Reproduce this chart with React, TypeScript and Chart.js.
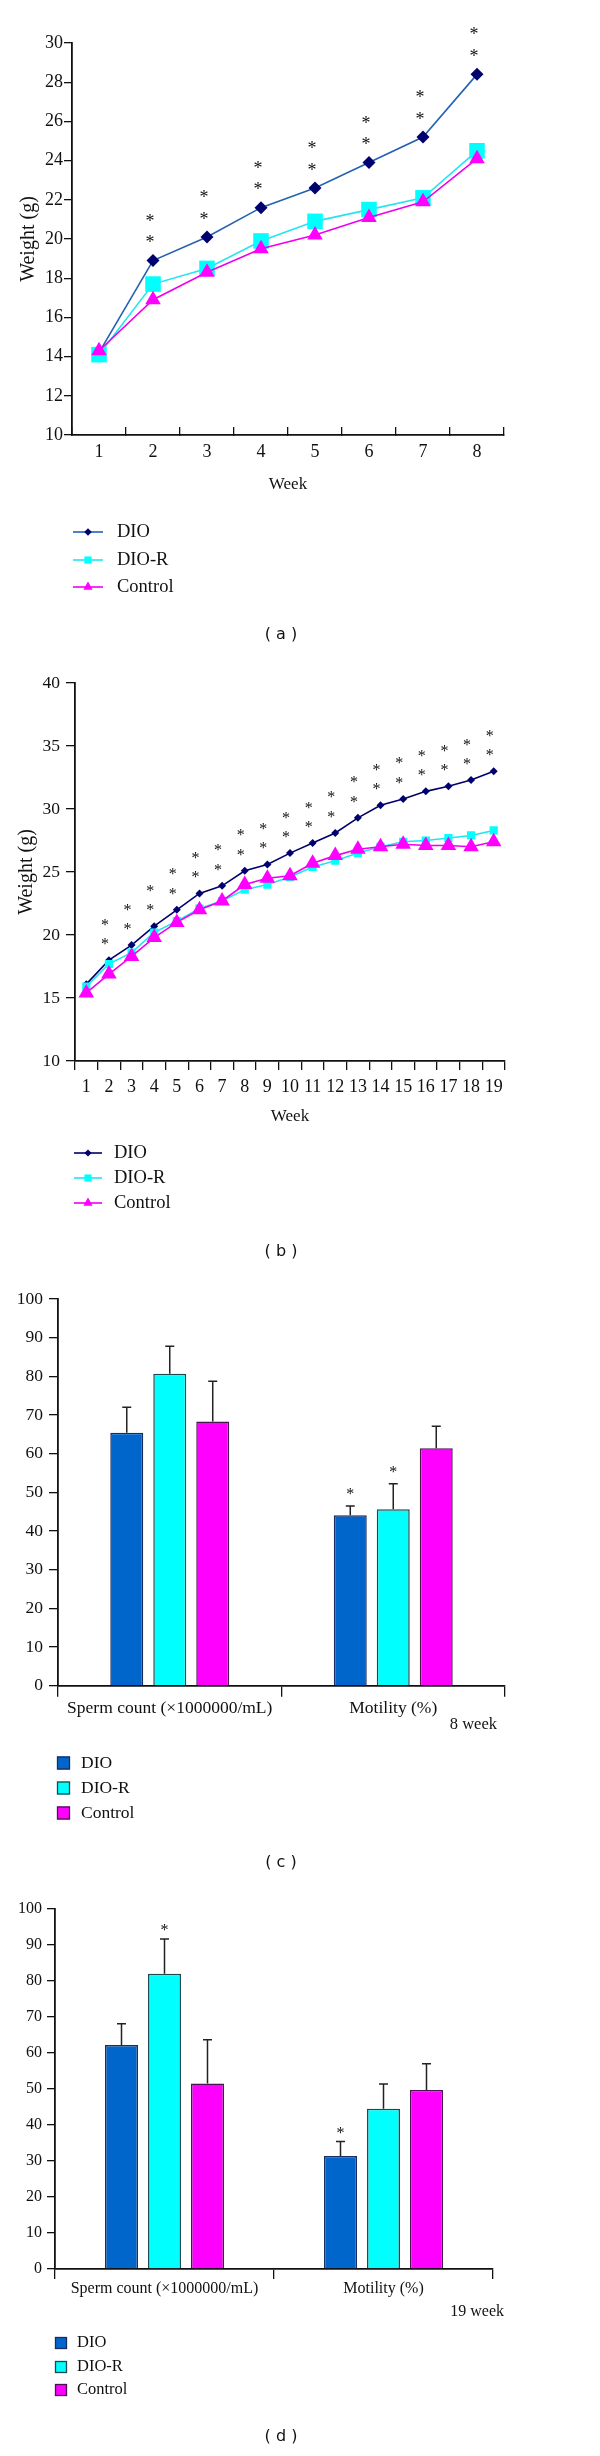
import React, { useEffect, useRef } from 'react';
import { Chart, registerables } from 'chart.js';

Chart.register(...registerables);

const SERIF = '"Liberation Serif", "Times New Roman", serif';
const SANS = '"DejaVu Sans", Verdana, sans-serif';

// ---------- (a) body weight, 8 weeks ----------
const weeksA = ['1', '2', '3', '4', '5', '6', '7', '8'];
const dioA = [14.2, 18.9, 20.1, 21.6, 22.6, 23.9, 25.2, 28.4];
const dioRA = [14.1, 17.7, 18.5, 19.9, 20.9, 21.5, 22.1, 24.5];
const controlA = [14.3, 16.9, 18.3, 19.5, 20.2, 21.1, 21.9, 24.1];
const starsA = [0, 2, 2, 2, 2, 2, 2, 2];

// ---------- (b) body weight, 19 weeks ----------
const weeksB = ['1', '2', '3', '4', '5', '6', '7', '8', '9', '10', '11', '12', '13', '14', '15', '16', '17', '18', '19'];
const dioB = [16.1, 18.0, 19.2, 20.7, 22.0, 23.3, 23.9, 25.1, 25.6, 26.5, 27.3, 28.1, 29.3, 30.3, 30.8, 31.4, 31.8, 32.3, 33.0];
const dioRB = [15.9, 17.7, 18.6, 20.2, 21.1, 22.1, 22.7, 23.6, 24.0, 24.6, 25.4, 25.9, 26.5, 27.0, 27.4, 27.5, 27.7, 27.9, 28.3];
const controlB = [15.4, 16.9, 18.3, 19.8, 21.0, 22.0, 22.7, 24.0, 24.5, 24.7, 25.7, 26.3, 26.8, 27.0, 27.2, 27.1, 27.1, 27.0, 27.4];
const starsB = [0, 2, 2, 2, 2, 2, 2, 2, 2, 2, 2, 2, 2, 2, 2, 2, 2, 2, 2];

// ---------- (c) sperm, 8 weeks ----------
const barCategories = ['Sperm count (\u00d71000000/mL)', 'Motility (%)'];
const dioC = [65.4, 44.1];
const dioRC = [80.7, 45.6];
const controlC = [68.3, 61.4];
const errDioC = [6.6, 2.4];
const errDioRC = [7.1, 6.6];
const errControlC = [10.4, 5.7];
const starsDioC = [0, 1];
const starsDioRC = [0, 1];
const starsControlC = [0, 0];

// ---------- (d) sperm, 19 weeks ----------
const dioD = [62.2, 31.4];
const dioRD = [82.0, 44.5];
const controlD = [51.5, 49.7];
const errDioD = [5.9, 4.0];
const errDioRD = [9.7, 6.9];
const errControlD = [12.2, 7.3];
const starsDioD = [0, 1];
const starsDioRD = [1, 0];
const starsControlD = [0, 0];

const seriesNames = ['DIO', 'DIO-R', 'Control'];

type PStyle = 'rectRot' | 'rect' | 'triangle';
interface LineStyle { line: string; point: string; pstyle: PStyle; r: number; lr: number; }

function drawShape(ctx: CanvasRenderingContext2D, s: PStyle, x: number, y: number, r: number, color: string) {
  ctx.save();
  ctx.fillStyle = color;
  ctx.beginPath();
  if (s === 'rectRot') {
    ctx.moveTo(x, y - r); ctx.lineTo(x + r, y); ctx.lineTo(x, y + r); ctx.lineTo(x - r, y);
  } else if (s === 'rect') {
    ctx.rect(x - r, y - r, 2 * r, 2 * r);
  } else {
    ctx.moveTo(x, y - r); ctx.lineTo(x + 0.866 * r, y + 0.5 * r); ctx.lineTo(x - 0.866 * r, y + 0.5 * r);
  }
  ctx.closePath();
  ctx.fill();
  ctx.restore();
}

function drawStar(ctx: CanvasRenderingContext2D, x: number, cy: number, size: number) {
  ctx.save();
  ctx.font = `${size}px ${SERIF}`;
  ctx.fillStyle = '#111';
  ctx.textAlign = 'center';
  ctx.textBaseline = 'alphabetic';
  const m = ctx.measureText('*');
  const asc = m.actualBoundingBoxAscent || size * 0.7;
  const desc = m.actualBoundingBoxDescent || -size * 0.3;
  ctx.fillText('*', x, cy + (asc - desc) / 2);
  ctx.restore();
}

function drawText(ctx: CanvasRenderingContext2D, text: string, x: number, y: number, font: string, align: CanvasTextAlign) {
  ctx.save();
  ctx.font = font;
  ctx.fillStyle = '#111';
  ctx.textAlign = align;
  ctx.textBaseline = 'middle';
  ctx.fillText(text, x, y);
  ctx.restore();
}

interface LineParams {
  labels: string[];
  series: number[][];
  styles: LineStyle[];
  stars: number[];
  yMin: number; yMax: number; yStep: number;
  yWidth: number; xHeight: number; padTop: number; padRight: number; padBottom: number;
  yTickLen: number; yTickPad: number; xTickLen: number; xTickPad: number; yTitlePad: number;
  tickFont: number; xTickFont: number; titleFont: number; yTitleFont: number;
  starSize: number; starOff: number; starStep: number; starDx: number;
  lineWidth: number;
  legend: { ys: number[]; x0: number; x1: number; tx: number; font: number };
  panel: { text: string; y: number };
}

function lineConfig(p: LineParams): any {
  return {
    type: 'line',
    data: {
      labels: p.labels,
      datasets: p.series.map((d, i) => ({
        label: seriesNames[i],
        data: d,
        borderColor: p.styles[i].line,
        borderWidth: p.lineWidth,
        backgroundColor: p.styles[i].point,
        pointBackgroundColor: p.styles[i].point,
        pointBorderColor: p.styles[i].point,
        pointBorderWidth: 0,
        pointStyle: p.styles[i].pstyle,
        pointRadius: p.styles[i].r,
        tension: 0,
        fill: false,
        order: 2 - i,
      })),
    },
    options: {
      responsive: false,
      animation: false,
      events: [],
      layout: { padding: { left: 0, top: p.padTop, right: p.padRight, bottom: p.padBottom } },
      plugins: { legend: { display: false }, tooltip: { enabled: false } },
      scales: {
        x: {
          type: 'category',
          offset: true,
          grid: { display: true, drawOnChartArea: false, drawTicks: true, offset: true, tickLength: p.xTickLen, color: '#111', lineWidth: 1.3 },
          border: { display: true, color: '#111', width: 1.8 },
          ticks: { font: { family: SERIF, size: p.xTickFont }, color: '#111', padding: p.xTickPad, maxRotation: 0, minRotation: 0, autoSkip: false },
          title: { display: true, text: 'Week', font: { family: SERIF, size: p.titleFont }, color: '#111', padding: { top: 0, bottom: 0 } },
          afterFit: (s: any) => { s.height = p.xHeight; },
        },
        y: {
          min: p.yMin, max: p.yMax,
          grid: { display: true, drawOnChartArea: false, drawTicks: true, tickLength: p.yTickLen, color: '#111', lineWidth: 1.3 },
          border: { display: true, color: '#111', width: 1.8 },
          ticks: { stepSize: p.yStep, font: { family: SERIF, size: p.tickFont }, color: '#111', padding: p.yTickPad },
          title: { display: true, text: 'Weight (g)', font: { family: SERIF, size: p.yTitleFont }, color: '#111', padding: { top: p.yTitlePad, bottom: 0 } },
          afterFit: (s: any) => { s.width = p.yWidth; },
        },
      },
    },
    plugins: [
      {
        id: 'lineExtras',
        afterDatasetsDraw(chart: any) {
          const ctx = chart.ctx as CanvasRenderingContext2D;
          const meta = chart.getDatasetMeta(0);
          p.stars.forEach((n, i) => {
            const pt = meta.data[i];
            for (let k = 0; k < n; k++) drawStar(ctx, pt.x + p.starDx, pt.y - p.starOff - k * p.starStep, p.starSize);
          });
        },
        afterDraw(chart: any) {
          const ctx = chart.ctx as CanvasRenderingContext2D;
          const L = p.legend;
          p.styles.forEach((st, i) => {
            const y = L.ys[i];
            ctx.save();
            ctx.strokeStyle = st.line;
            ctx.lineWidth = 1.6;
            ctx.beginPath(); ctx.moveTo(L.x0, y); ctx.lineTo(L.x1, y); ctx.stroke();
            ctx.restore();
            drawShape(ctx, st.pstyle, (L.x0 + L.x1) / 2, y, st.lr, st.point);
            drawText(ctx, seriesNames[i], L.tx, y, `${L.font}px ${SERIF}`, 'left');
          });
          drawText(ctx, p.panel.text, 281, p.panel.y, `16px ${SANS}`, 'center');
        },
      },
    ],
  };
}

interface BarParams {
  series: number[][];
  errs: number[][];
  stars: number[][];
  yWidth: number; xHeight: number; padTop: number; padRight: number; padBottom: number;
  catPct: number; barPct: number;
  yTickLen: number; yTickPad: number; xTickLen: number; xTickPad: number;
  tickFont: number; xTickFont: number;
  starSize: number; starOff: number;
  note: { text: string; x: number; y: number; font: number };
  legend: { ys: number[]; x: number; size: number; tx: number; font: number };
  panel: { text: string; y: number };
}

const BAR_FILL = ['#0066cc', '#00ffff', '#ff00ff'];
const BAR_EDGE = ['#1b2a60', '#1d4a50', '#4a1450'];

function barConfig(p: BarParams): any {
  return {
    type: 'bar',
    data: {
      labels: barCategories,
      datasets: p.series.map((d, i) => ({
        label: seriesNames[i],
        data: d,
        backgroundColor: BAR_FILL[i],
        borderColor: BAR_EDGE[i],
        borderWidth: 1.5,
        categoryPercentage: p.catPct,
        barPercentage: p.barPct,
      })),
    },
    options: {
      responsive: false,
      animation: false,
      events: [],
      layout: { padding: { left: 0, top: p.padTop, right: p.padRight, bottom: p.padBottom } },
      plugins: { legend: { display: false }, tooltip: { enabled: false } },
      scales: {
        x: {
          grid: { display: true, drawOnChartArea: false, drawTicks: true, offset: true, tickLength: p.xTickLen, color: '#111', lineWidth: 1.3 },
          border: { display: true, color: '#111', width: 1.8 },
          ticks: { font: { family: SERIF, size: p.xTickFont }, color: '#111', padding: p.xTickPad, maxRotation: 0, minRotation: 0, autoSkip: false },
          afterFit: (s: any) => { s.height = p.xHeight; },
        },
        y: {
          min: 0, max: 100,
          grid: { display: true, drawOnChartArea: false, drawTicks: true, tickLength: p.yTickLen, color: '#111', lineWidth: 1.3 },
          border: { display: true, color: '#111', width: 1.8 },
          ticks: { stepSize: 10, font: { family: SERIF, size: p.tickFont }, color: '#111', padding: p.yTickPad },
          afterFit: (s: any) => { s.width = p.yWidth; },
        },
      },
    },
    plugins: [
      {
        id: 'barExtras',
        afterDatasetsDraw(chart: any) {
          const ctx = chart.ctx as CanvasRenderingContext2D;
          const ys = chart.scales.y;
          p.series.forEach((d, di) => {
            const meta = chart.getDatasetMeta(di);
            d.forEach((v, i) => {
              const bar = meta.data[i];
              const top = ys.getPixelForValue(v + p.errs[di][i]);
              ctx.save();
              ctx.strokeStyle = '#222';
              ctx.lineWidth = 1.5;
              ctx.beginPath();
              ctx.moveTo(bar.x, bar.y);
              ctx.lineTo(bar.x, top);
              ctx.moveTo(bar.x - 4.5, top);
              ctx.lineTo(bar.x + 4.5, top);
              ctx.stroke();
              ctx.restore();
              for (let k = 0; k < p.stars[di][i]; k++) drawStar(ctx, bar.x, top - p.starOff, p.starSize);
            });
          });
        },
        afterDraw(chart: any) {
          const ctx = chart.ctx as CanvasRenderingContext2D;
          drawText(ctx, p.note.text, p.note.x, p.note.y, `${p.note.font}px ${SERIF}`, 'right');
          const L = p.legend;
          seriesNames.forEach((name, i) => {
            const y = L.ys[i];
            ctx.save();
            ctx.fillStyle = BAR_FILL[i];
            ctx.fillRect(L.x, y - L.size / 2, L.size, L.size);
            ctx.strokeStyle = BAR_EDGE[i];
            ctx.lineWidth = 1.3;
            ctx.strokeRect(L.x + 0.5, y - L.size / 2 + 0.5, L.size - 1, L.size - 1);
            ctx.restore();
            drawText(ctx, name, L.tx, y, `${L.font}px ${SERIF}`, 'left');
          });
          drawText(ctx, p.panel.text, 281, p.panel.y, `16px ${SANS}`, 'center');
        },
      },
    ],
  };
}

function ChartCanvas({ top, height, build }: { top: number; height: number; build: () => any }) {
  const ref = useRef<HTMLCanvasElement>(null);
  useEffect(() => {
    const chart = new Chart(ref.current as HTMLCanvasElement, build());
    return () => chart.destroy();
  }, []);
  return (
    <canvas
      ref={ref}
      width={600}
      height={height}
      style={{ position: 'absolute', left: 0, top, width: 600, height, display: 'block' }}
    />
  );
}

const stylesA: LineStyle[] = [
  { line: '#2462b4', point: '#00006e', pstyle: 'rectRot', r: 6.5, lr: 3.8 },
  { line: '#22e4f2', point: '#00ffff', pstyle: 'rect', r: 11, lr: 3.6 },
  { line: '#ee00ee', point: '#ff00ff', pstyle: 'triangle', r: 9, lr: 5.4 },
];
const stylesB: LineStyle[] = [
  { line: '#00006e', point: '#00006e', pstyle: 'rectRot', r: 4, lr: 3.6 },
  { line: '#22e4f2', point: '#00ffff', pstyle: 'rect', r: 5.8, lr: 3.6 },
  { line: '#ee00ee', point: '#ff00ff', pstyle: 'triangle', r: 9, lr: 5.4 },
];

export default function App() {
  return (
    <div style={{ position: 'absolute', left: 0, top: 0, width: 600, height: 2456, background: '#fff' }}>
      <ChartCanvas
        top={0}
        height={650}
        build={() => lineConfig({
          labels: weeksA,
          series: [dioA, dioRA, controlA],
          styles: stylesA,
          stars: starsA,
          yMin: 10, yMax: 30, yStep: 2,
          yWidth: 72, xHeight: 60, padTop: 43, padRight: 96, padBottom: 155,
          yTickLen: 8, yTickPad: 1, xTickLen: -8, xTickPad: 14.5, yTitlePad: 16.5,
          tickFont: 18, xTickFont: 18, titleFont: 17, yTitleFont: 20,
          starSize: 18, starOff: 22, starStep: 21.5, starDx: -3,
          lineWidth: 1.6,
          legend: { ys: [532, 560, 587], x0: 73, x1: 103, tx: 117, font: 18.5 },
          panel: { text: '( a )', y: 635 },
        })}
      />
      <ChartCanvas
        top={650}
        height={620}
        build={() => lineConfig({
          labels: weeksB,
          series: [dioB, dioRB, controlB],
          styles: stylesB,
          stars: starsB,
          yMin: 10, yMax: 40, yStep: 5,
          yWidth: 75, xHeight: 66, padTop: 33, padRight: 95, padBottom: 143,
          yTickLen: 9, yTickPad: 6, xTickLen: 9, xTickPad: 6, yTitlePad: 15,
          tickFont: 17.5, xTickFont: 18, titleFont: 17, yTitleFont: 20,
          starSize: 16, starOff: 18.5, starStep: 19.5, starDx: -4,
          lineWidth: 1.6,
          legend: { ys: [503, 528, 553], x0: 74, x1: 102, tx: 114, font: 18.5 },
          panel: { text: '( b )', y: 602 },
        })}
      />
      <ChartCanvas
        top={1270}
        height={610}
        build={() => barConfig({
          series: [dioC, dioRC, controlC],
          errs: [errDioC, errDioRC, errControlC],
          stars: [starsDioC, starsDioRC, starsControlC],
          yWidth: 58, xHeight: 50, padTop: 29, padRight: 95, padBottom: 144.3,
          catPct: 0.577, barPct: 0.767,
          yTickLen: 9, yTickPad: 6, xTickLen: 11, xTickPad: 1,
          tickFont: 17.5, xTickFont: 17.5,
          starSize: 16, starOff: 14,
          note: { text: '8 week', x: 497, y: 455, font: 16.5 },
          legend: { ys: [493, 518, 543], x: 57, size: 13, tx: 81, font: 17.5 },
          panel: { text: '( c )', y: 593 },
        })}
      />
      <ChartCanvas
        top={1880}
        height={576}
        build={() => barConfig({
          series: [dioD, dioRD, controlD],
          errs: [errDioD, errDioRD, errControlD],
          stars: [starsDioD, starsDioRD, starsControlD],
          yWidth: 55, xHeight: 50, padTop: 29, padRight: 107, padBottom: 137,
          catPct: 0.589, barPct: 0.767,
          yTickLen: 8, yTickPad: 5, xTickLen: 10, xTickPad: 0,
          tickFont: 16, xTickFont: 16,
          starSize: 16, starOff: 11,
          note: { text: '19 week', x: 504, y: 432, font: 16 },
          legend: { ys: [463, 487, 510], x: 55, size: 12, tx: 77, font: 16.5 },
          panel: { text: '( d )', y: 557 },
        })}
      />
    </div>
  );
}
